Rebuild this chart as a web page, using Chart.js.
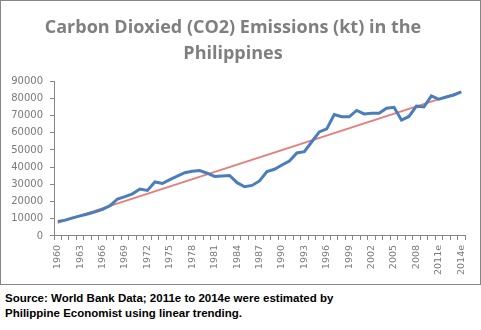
<!DOCTYPE html>
<html>
<head>
<meta charset="utf-8">
<script src="https://cdn.jsdelivr.net/npm/chart.js@4"></script>
<style>
  html, body { margin: 0; padding: 0; background: #fff; }
  #wrap { position: absolute; left: 0; top: 0; width: 479px; height: 283px; border: 1px solid #868686; }
  #c { display: block; }
  #foot { position: absolute; left: 5px; top: 291px; font-family: "Liberation Sans", Arial, sans-serif; font-weight: bold; font-size: 11.5px; line-height: 15px; color: #000; }
</style>
</head>
<body>
<div id="wrap"><canvas id="c" width="479" height="283"></canvas></div>
<div id="foot">Source: World Bank Data; 2011e to 2014e were estimated by<br>Philippine Economist using linear trending.</div>
<script>
const years = ['1960','1961','1962','1963','1964','1965','1966','1967','1968','1969',
  '1970','1971','1972','1973','1974','1975','1976','1977','1978','1979',
  '1980','1981','1982','1983','1984','1985','1986','1987','1988','1989',
  '1990','1991','1992','1993','1994','1995','1996','1997','1998','1999',
  '2000','2001','2002','2003','2004','2005','2006','2007','2008','2009',
  '2010','2011e','2012e','2013e','2014e'];
const emissions = [8500, 9200, 10500, 11700, 12800, 14000, 15500, 17600, 21500, 22900,
  24500, 27300, 26500, 31400, 30500, 32800, 34800, 36800, 37600, 38000,
  36500, 34600, 34900, 35200, 31000, 28600, 29400, 32000, 37500, 38800,
  41300, 43600, 48300, 49000, 54800, 60500, 62300, 70600, 69300, 69300,
  73000, 71000, 71400, 71400, 74300, 74800, 67400, 69500, 75500, 75000,
  81500, 79500, 80800, 82000, 83800];
const trendStart = 7600;
const trendEnd = 83800;
const yTicks = [0, 10000, 20000, 30000, 40000, 50000, 60000, 70000, 80000, 90000];
const titleLines = ['Carbon Dioxied (CO2) Emissions (kt) in the', 'Philippines'];

const gray = '#868686';
new Chart(document.getElementById('c'), {
  type: 'line',
  data: {
    labels: years,
    datasets: [
      {
        label: 'Emissions',
        data: emissions,
        borderColor: '#4A7EBB',
        borderWidth: 3,
        pointRadius: 0,
        tension: 0,
        fill: false
      },
      {
        label: 'Trend',
        data: [{x: years[0], y: trendStart}, {x: years[years.length - 1], y: trendEnd}],
        borderColor: 'rgba(220,70,70,0.7)',
        borderWidth: 2,
        pointRadius: 0,
        tension: 0,
        fill: false
      }
    ]
  },
  options: {
    responsive: false,
    animation: false,
    devicePixelRatio: 1,
    layout: { padding: { left: 0, right: 15, top: 0, bottom: 4 } },
    plugins: {
      legend: { display: false },
      tooltip: { enabled: false },
      title: {
        display: true,
        text: titleLines,
        color: '#7F7F7F',
        font: { family: '"Open Sans", sans-serif', size: 18, weight: 'bold', lineHeight: 1.45 },
        padding: { top: 14, bottom: 14 }
      }
    },
    scales: {
      x: {
        type: 'category',
        offset: true,
        grid: { display: true, drawOnChartArea: false, drawTicks: true, tickLength: 4, color: gray, offset: true },
        border: { display: true, color: gray, width: 1 },
        ticks: {
          autoSkip: false,
          minRotation: 90,
          maxRotation: 90,
          padding: 5,
          color: '#7A7A7A',
          font: { family: '"DejaVu Sans", sans-serif', size: 9.5 },
          callback: function(v, i) { return i % 3 === 0 ? years[i] : ''; }
        }
      },
      y: {
        min: 0,
        max: 90000,
        afterBuildTicks: function(scale) { scale.ticks = yTicks.map(v => ({ value: v })); },
        afterFit: function(scale) { scale.width = 53; },
        grid: { display: true, drawOnChartArea: false, drawTicks: true, tickLength: 4, color: gray },
        border: { display: true, color: gray, width: 1 },
        ticks: {
          padding: 7,
          color: '#7A7A7A',
          font: { family: '"DejaVu Sans", sans-serif', size: 10 },
          callback: function(v) { return String(v); }
        }
      }
    }
  }
});
</script>
</body>
</html>
